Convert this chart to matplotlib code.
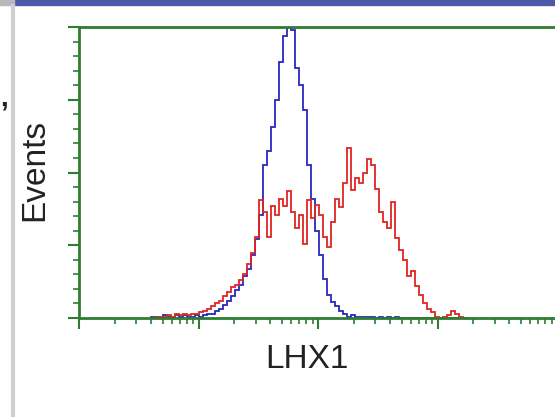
import numpy as np
import matplotlib
matplotlib.use('Agg')
import matplotlib.pyplot as plt
from matplotlib.ticker import LogLocator, MultipleLocator, NullFormatter
from matplotlib.patches import Rectangle
from matplotlib.lines import Line2D

# histogram channels (log10 of LHX1 intensity), one count per bin
log_start = 0.6
log_step = 0.0335

blue_counts = [1, 1, 0, 2, 1, 1, 2, 1, 2, 1,
               1, 2, 1, 2, 3, 3, 5, 6, 9, 12,
               15, 19, 23, 29, 34, 43, 54, 71, 105, 115,
               131, 150, 176, 194, 203, 198, 172, 160, 143, 105,
               82, 60, 43, 27, 16, 11, 8, 5, 3, 1,
               2, 1, 1, 1, 1, 1, 0, 1, 0, 1,
               0, 1, 0, 0, 0, 0, 0, 0, 0, 0,
               0, 0, 0, 0, 0, 0, 0, 0, 0]

red_counts = [0, 1, 1, 1, 2, 1, 3, 2, 3, 2,
              3, 3, 4, 5, 6, 8, 10, 12, 15, 18,
              21, 23, 26, 30, 37, 45, 56, 81, 73, 56,
              77, 71, 82, 77, 87, 73, 62, 71, 51, 81,
              69, 78, 71, 56, 49, 66, 82, 76, 93, 117,
              88, 96, 93, 100, 109, 105, 89, 73, 66, 62,
              80, 55, 47, 40, 29, 32, 22, 16, 10, 6,
              4, 1, 0, 1, 2, 5, 3, 1, 0]

edges = 10 ** (log_start + log_step * np.arange(len(blue_counts) + 1))

green = '#2e7d32'

fig = plt.figure(figsize=(5.55, 4.17), dpi=100)
fig.patch.set_facecolor('white')

# bits of the surrounding page
fig.add_artist(Rectangle((0.025, 0.988), 0.975, 0.012, transform=fig.transFigure,
                         color='#4a5aa8', zorder=0))
fig.add_artist(Rectangle((0, 0.988), 0.025, 0.012, transform=fig.transFigure,
                         color='#b8b8b8', zorder=0))
fig.add_artist(Line2D([0.024, 0.024], [0, 0.986], transform=fig.transFigure,
                      color='#d0d0d0', lw=3))
fig.text(4 / 555, 1 - 98 / 417, ',', fontsize=20, fontweight='bold',
         family='Liberation Sans', ha='center', va='center', color='#222222')

ax = fig.add_axes([79 / 555, 99 / 417, 478 / 555, 291 / 417])
ax.stairs(blue_counts, edges, color='#2828c0', lw=1.3)
ax.stairs(red_counts, edges, color='#e02424', lw=1.3)

ax.set_xscale('log')
ax.set_xlim(1, 1e4)
ax.set_ylim(0, 200)

ax.xaxis.set_major_locator(LogLocator(base=10))
ax.xaxis.set_minor_locator(LogLocator(base=10, subs=np.arange(2, 10)))
ax.xaxis.set_major_formatter(NullFormatter())
ax.xaxis.set_minor_formatter(NullFormatter())
ax.yaxis.set_major_locator(MultipleLocator(50))
ax.yaxis.set_minor_locator(MultipleLocator(10))
ax.yaxis.set_major_formatter(NullFormatter())

ax.tick_params(which='major', direction='out', length=8, width=1.5, color=green)
ax.tick_params(which='minor', direction='out', length=4, width=1.2, color=green)
ax.tick_params(top=False, right=False)

for side in ['left', 'bottom', 'top']:
    ax.spines[side].set_color(green)
    ax.spines[side].set_linewidth(2)
ax.spines['right'].set_visible(False)

fig.text(35 / 555, 1 - 170 / 417, 'Events', rotation=90, fontsize=24,
         family='Liberation Sans', ha='center', va='center', color='#222222')
fig.text(307 / 555, 1 - 359 / 417, 'LHX1', fontsize=24,
         family='Liberation Sans', ha='center', va='center', color='#222222')

fig.savefig('out.png', dpi=100)
